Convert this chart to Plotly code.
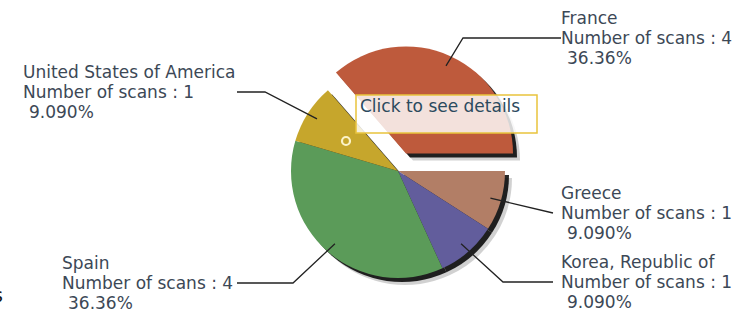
import math
import plotly.graph_objects as go

W, H = 735, 309

# ---- data ----
countries = ["Greece", "Korea, Republic of", "Spain", "United States of America", "France"]
scans = [1, 1, 4, 1, 4]
percent_labels = ["9.090%", "9.090%", "36.36%", "9.090%", "36.36%"]
pulls = [0, 0, 0, 0, 0.18]
colors = ["#B27E66", "#625D9C", "#5B9B59", "#C6A62C", "#BE5A3C"]

# ---- geometry (pixels) ----
CX, CY, R = 398, 171, 107
MAXPULL = max(pulls)
S = 2 * R * (1 + MAXPULL)
FONT = "DejaVu Sans"
FS = 17
TXT = "#3C4856"


def px(x):
    return x / W


def py(y):
    return 1 - y / H


def dom(dx=0, dy=0):
    return dict(x=[px(CX + dx - S / 2), px(CX + dx + S / 2)],
                y=[py(CY + dy + S / 2), py(CY + dy - S / 2)])


fig = go.Figure()
# soft shadow layers
for off, col in [(7, "rgba(0,0,0,0.18)"), (4, "rgba(0,0,0,0.85)")]:
    fig.add_trace(go.Pie(values=scans, labels=countries, sort=False, direction="clockwise",
                         rotation=90, pull=pulls, textinfo="none", hoverinfo="skip",
                         marker=dict(colors=[col] * len(scans), line=dict(width=0)),
                         domain=dom(off, off), showlegend=False))
fig.add_trace(go.Pie(values=scans, labels=countries, sort=False, direction="clockwise",
                     rotation=90, pull=pulls, textinfo="none", hoverinfo="none",
                     marker=dict(colors=colors, line=dict(width=0)),
                     domain=dom(), showlegend=False))

# anchor points on slices, computed from the data
total = sum(scans)
anchors = []
acc = 0
for v, p in zip(scans, pulls):
    mid = -(acc + v / 2) / total * 360  # degrees, math convention, starting at 3 o'clock
    acc += v
    a = math.radians(mid)
    cx = CX + p * R * math.cos(a)
    cy = CY - p * R * math.sin(a)
    anchors.append((cx + 0.9 * R * math.cos(a), cy - 0.9 * R * math.sin(a)))

# label layout: (text x, first line y, elbow point or None, line end x, line end y)
layout_info = {
    "Greece": (561, 193, None, 553, 213),
    "Korea, Republic of": (561, 262, (503, 282), 553, 282),
    "Spain": (62, 263, (293, 283), 237, 283),
    "United States of America": (23, 72, (265, 92), 237, 92),
    "France": (561, 18, (463, 38), 561, 38),
}

shapes = []
annotations = []
for name, n, pct, anc in zip(countries, scans, percent_labels, anchors):
    tx, ty, elbow, ex, ey = layout_info[name]
    pts = [anc] + ([elbow] if elbow else []) + [(ex, ey)]
    path = "M " + " L ".join(f"{px(x)},{py(y)}" for x, y in pts)
    shapes.append(dict(type="path", path=path, xref="paper", yref="paper",
                       line=dict(color="#222222", width=1.3)))
    lines = [name, f"Number of scans : {n}", pct]
    for i, t in enumerate(lines):
        xx = tx - 2 + (6 if i == 2 else 0)
        annotations.append(dict(text=t, x=px(xx), y=py(ty + 20 * i), xref="paper", yref="paper",
                                xanchor="left", yanchor="middle", showarrow=False,
                                font=dict(family=FONT, size=FS, color=TXT)))

# tooltip
shapes.append(dict(type="rect", xref="paper", yref="paper", x0=px(356), x1=px(537), y0=py(133), y1=py(95),
                   fillcolor="rgba(255,255,255,0.82)", line=dict(color="#E9C43C", width=1.5)))
annotations.append(dict(text="Click to see details", x=px(358), y=py(106), xref="paper", yref="paper",
                        xanchor="left", yanchor="middle", showarrow=False,
                        font=dict(family=FONT, size=FS, color="#2B4A5E")))
# hover ring
shapes.append(dict(type="circle", xref="paper", yref="paper", x0=px(342), x1=px(350), y0=py(145), y1=py(137),
                   line=dict(color="#FBF3C8", width=2.2)))
# cut-off character at the left edge
annotations.append(dict(text="s", x=px(5), y=py(295), xref="paper", yref="paper",
                        xanchor="right", yanchor="middle", showarrow=False,
                        font=dict(family=FONT, size=19, color="#111111")))

fig.update_layout(width=W, height=H, margin=dict(l=0, r=0, t=0, b=0),
                  paper_bgcolor="white", plot_bgcolor="white",
                  shapes=shapes, annotations=annotations, showlegend=False)
fig.write_html("out.html", config={"displayModeBar": False},
               post_script="document.body.style.margin='0px';document.body.style.overflow='hidden';")
